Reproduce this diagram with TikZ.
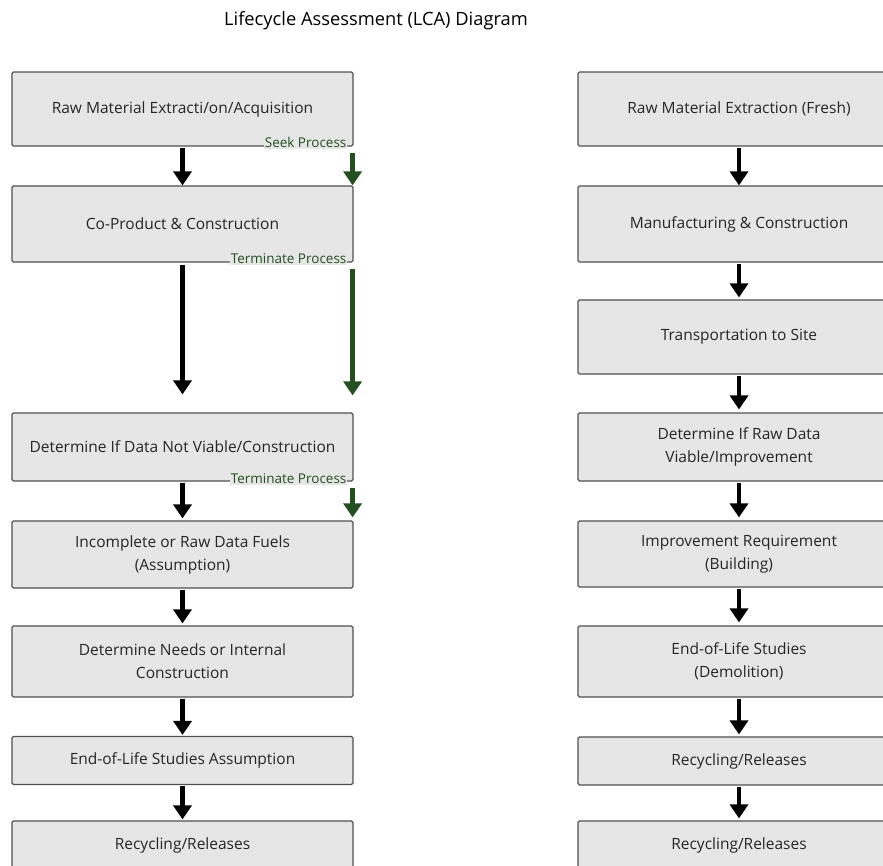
\documentclass[tikz,border=0pt]{standalone}
\usepackage{fontspec}
\setmainfont{Open Sans}
\usetikzlibrary{arrows.meta}
\definecolor{boxgray}{HTML}{E6E6E6}
\definecolor{boxline}{HTML}{505050}
\definecolor{procgreen}{HTML}{244F20}
\begin{document}
\begin{tikzpicture}[x=1pt,y=-1pt,
    stage/.style={draw=boxline,fill=boxgray,line width=1.2pt,rounded corners=1.5pt,align=center,inner sep=0pt,text=black!85,font=\fontsize{15.5}{23}\selectfont},
    leftstage/.style={stage,minimum width=341pt},
    rightstage/.style={stage,minimum width=322pt},
    flow/.style={line width=4.5pt,-{Triangle[length=14pt,width=18pt]}},
    procflow/.style={flow,draw=procgreen,fill=procgreen},
    proctag/.style={text=procgreen,fill=boxgray,inner sep=1pt,anchor=east,font=\fontsize{13.5}{15}\selectfont}]
    \useasboundingbox (0,0) rectangle (883,866);
    \node (title) at (376,21) {\fontsize{18.3}{22}\selectfont Lifecycle Assessment (LCA) Diagram};
    % left column
    \node [leftstage,minimum height=74pt] (l1) at (182.5,109) {Raw Material Extracti/on/Acquisition};
    \node [leftstage,minimum height=76pt] (l2) at (182.5,224) {Co-Product \& Construction};
    \node [leftstage,minimum height=68pt] (l3) at (182.5,447) {Determine If Data Not Viable/Construction};
    \node [leftstage,minimum height=67pt] (l4) at (182.5,554.5) {Incomplete or Raw Data Fuels\\(Assumption)};
    \node [leftstage,minimum height=71pt] (l5) at (182.5,661.5) {Determine Needs or Internal\\Construction};
    \node [leftstage,minimum height=48pt] (l6) at (182.5,760.5) {End-of-Life Studies Assumption};
    \node [leftstage,minimum height=48pt] (l7) at (182.5,845) {Recycling/Releases};
    \node [proctag] (seek) at ([xshift=-6pt,yshift=4pt]l1.south east) {Seek Process};
    \node [proctag] (term1) at ([xshift=-6pt,yshift=4pt]l2.south east) {Terminate Process};
    \node [proctag] (term2) at ([xshift=-6pt,yshift=3pt]l3.south east) {Terminate Process};
    % right column
    \node [rightstage,minimum height=74pt] (r1) at (739,109) {Raw Material Extraction (Fresh)};
    \node [rightstage,minimum height=76pt] (r2) at (739,224) {Manufacturing \& Construction};
    \node [rightstage,minimum height=74pt] (r3) at (739,337) {Transportation to Site};
    \node [rightstage,minimum height=68pt] (r4) at (739,447) {Determine If Raw Data\\Viable/Improvement};
    \node [rightstage,minimum height=66pt] (r5) at (739,554) {Improvement Requirement\\(Building)};
    \node [rightstage,minimum height=71pt] (r6) at (739,661.5) {End-of-Life Studies\\(Demolition)};
    \node [rightstage,minimum height=48pt] (r7) at (739,761) {Recycling/Releases};
    \node [rightstage,minimum height=48pt] (r8) at (739,845) {Recycling/Releases};
    % left flow
    \draw [flow,shorten <=1pt] (l1.south) -- (l2.north);
    \draw [flow,shorten <=2pt,shorten >=18pt] (l2.south) -- (l3.north);
    \draw [flow,shorten <=1pt,shorten >=2pt] (l3.south) -- (l4.north);
    \draw [flow,shorten <=1pt,shorten >=2pt] (l4.south) -- (l5.north);
    \draw [flow,shorten <=1pt,shorten >=1pt] (l5.south) -- (l6.north);
    \draw [flow,shorten <=1pt,shorten >=1pt] (l6.south) -- (l7.north);
    \draw [procflow,shorten <=6pt] ([xshift=-1pt]l1.south east) -- ([xshift=-1pt]l2.north east);
    \draw [procflow,shorten <=6pt,shorten >=17pt] ([xshift=-1pt]l2.south east) -- ([xshift=-1pt]l3.north east);
    \draw [procflow,shorten <=6pt,shorten >=3pt] ([xshift=-1pt]l3.south east) -- ([xshift=-1pt]l4.north east);
    % right flow
    \draw [flow,shorten <=1pt] (r1.south) -- (r2.north);
    \draw [flow,shorten <=1pt,shorten >=2pt] (r2.south) -- (r3.north);
    \draw [flow,shorten <=1pt,shorten >=3pt] (r3.south) -- (r4.north);
    \draw [flow,shorten <=1pt,shorten >=3pt] (r4.south) -- (r5.north);
    \draw [flow,shorten <=1pt,shorten >=3pt] (r5.south) -- (r6.north);
    \draw [flow,shorten <=1pt,shorten >=2pt] (r6.south) -- (r7.north);
    \draw [flow,shorten <=1pt,shorten >=2pt] (r7.south) -- (r8.north);
\end{tikzpicture}
\end{document}
